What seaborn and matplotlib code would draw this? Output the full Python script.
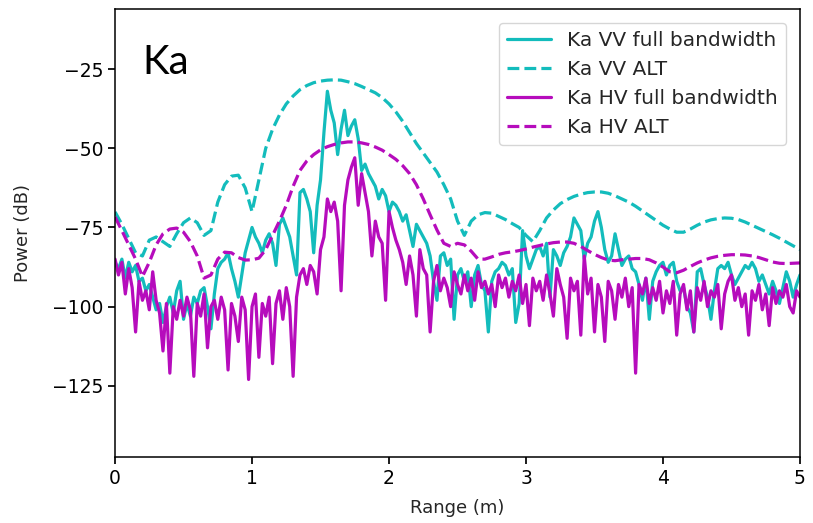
import numpy as np
import pandas as pd
import seaborn as sns
import matplotlib
matplotlib.use("Agg")
import matplotlib.pyplot as plt

# range axis samples (m)
range_fine = np.round(np.linspace(0, 5, 201), 3)     # full-bandwidth traces
range_alt = np.round(np.linspace(0, 5, 101), 3)      # ALT traces

vv_full = [
    -86, -88, -85, -91, -86, -89, -87, -92,
    -91, -95, -93, -97, -101, -99, -105, -100,
    -97, -102, -95, -92, -104, -99, -103, -97,
    -99, -95, -94, -100, -107, -96, -88, -86,
    -85, -83, -88, -92, -97, -90, -83, -79,
    -75, -78, -80, -83, -79, -77, -80, -87,
    -74, -72, -75, -78, -84, -90, -64, -63,
    -66, -70, -83, -68, -60, -45, -32, -38,
    -42, -52, -44, -38, -46, -43, -41, -47,
    -57, -55, -58, -60, -62, -66, -63, -65,
    -70, -67, -68, -70, -73, -71, -76, -81,
    -74, -76, -78, -80, -84, -92, -98, -84,
    -83, -87, -85, -104, -90, -88, -92, -89,
    -100, -90, -87, -93, -95, -108, -92, -89,
    -88, -86, -87, -90, -88, -105, -99, -76,
    -84, -88, -85, -82, -81, -84, -80, -97,
    -82, -84, -87, -83, -81, -78, -72, -74,
    -76, -85, -80, -78, -73, -70, -75, -82,
    -86, -84, -77, -82, -87, -85, -84, -88,
    -89, -93, -98, -91, -104, -92, -89, -87,
    -86, -90, -87, -86, -92, -95, -94, -100,
    -102, -108, -89, -88, -93, -97, -104, -95,
    -88, -87, -88, -86, -90, -93, -91, -89,
    -87, -88, -86, -88, -92, -90, -93, -96,
    -92, -95, -99, -94, -89, -92, -97, -93,
    -90,
]

hv_full = [
    -85, -90, -86, -96, -88, -94, -108, -92,
    -98, -95, -101, -89, -98, -102, -114, -99,
    -121, -100, -104, -98, -103, -97, -101, -122,
    -99, -103, -96, -113, -100, -98, -104, -97,
    -101, -120, -99, -103, -111, -97, -101, -123,
    -100, -96, -116, -99, -103, -97, -118, -99,
    -95, -104, -94, -100, -122, -97, -90, -88,
    -93, -87, -89, -96, -82, -78, -66, -70,
    -67, -73, -95, -68, -60, -56, -53, -68,
    -58, -64, -70, -84, -73, -78, -80, -98,
    -70, -75, -79, -82, -86, -93, -84, -90,
    -103, -82, -88, -90, -108, -92, -87, -95,
    -91, -94, -100, -89, -93, -96, -90, -95,
    -91, -98, -89, -94, -92, -96, -93, -100,
    -90, -94, -91, -97, -92, -95, -90, -99,
    -93, -106, -91, -95, -92, -98, -90, -96,
    -103, -88, -93, -97, -110, -91, -95, -92,
    -109, -84, -96, -91, -108, -93, -97, -111,
    -92, -95, -104, -93, -97, -91, -100, -94,
    -121, -93, -96, -91, -99, -94, -98, -92,
    -102, -95, -99, -92, -109, -96, -93, -101,
    -95, -108, -94, -98, -92, -100, -95, -97,
    -93, -107, -96, -92, -90, -98, -94, -100,
    -96, -109, -95, -98, -93, -101, -96, -106,
    -94, -99, -95, -97, -93, -100, -102, -95,
    -97,
]

vv_alt = [
    -70.1, -74, -78.5, -83, -84, -79, -78, -79.5, -81, -77,
    -73.5, -72, -73.5, -77.5, -76, -67, -61.5, -58.8, -58.5, -62.5,
    -70, -60, -50, -44, -39.5, -36, -33.5, -31.5, -30.2, -29.3,
    -28.8, -28.5, -28.4, -28.5, -29, -29.6, -30.5, -31.5, -32.5, -34,
    -36, -38.5, -41.5, -45, -48.5, -51.5, -54.5, -57.5, -61.5, -66,
    -73, -77.5, -73, -71, -70.3, -70.5, -71.5, -72.5, -73.8, -75,
    -77.5, -79.5, -76, -72, -69.5, -67.5, -66.2, -65.2, -64.5, -64,
    -63.8, -63.8, -64.2, -65, -66, -67, -68.3, -69.8, -71.3, -72.8,
    -74.3, -75.5, -76.5, -76.5, -75.5, -74.3, -73.3, -72.6, -72.2, -72,
    -72.1, -72.5, -73.3, -74.3, -75.3, -76.3, -77.3, -78.4, -79.6, -80.8,
    -82,
]

hv_alt = [
    -71.7, -76, -80.5, -85, -90.5, -86, -80.5, -77, -75.5, -75.2,
    -76.5, -79.5, -84, -91, -90, -85, -82.8, -83, -84.5, -85.3,
    -85.2, -84.7, -82, -77.5, -73, -68, -62, -57, -54, -52,
    -50.5, -49.5, -48.8, -48.3, -48, -48, -48.3, -48.8, -49.6, -50.6,
    -52, -53.5, -55.5, -58, -61.5, -66, -71, -75.8, -80, -81,
    -80, -80.5, -82.5, -85, -85, -84.3, -83.5, -83, -82.7, -82.3,
    -81.8, -81.2, -80.7, -80.2, -79.8, -79.6, -79.6, -80, -81, -82.3,
    -83.5, -84.5, -85.3, -85.5, -85.2, -85, -84.8, -84.8, -85.2, -86.2,
    -87.5, -89, -89.3, -88.5, -87.3, -86.2, -85.3, -84.6, -84.1, -83.8,
    -83.6, -83.6, -83.7, -84, -84.5, -85.2, -85.9, -86.3, -86.4, -86.3,
    -86.2,
]

sns.set_theme(style="ticks", rc={
    "axes.edgecolor": "black",
    "axes.linewidth": 1.1,
    "xtick.color": "black",
    "ytick.color": "black",
    "xtick.major.size": 5,
    "ytick.major.size": 5,
})
plt.rcParams["font.family"] = ["DejaVu Sans"]

cyan = "#13bcbc"
magenta = "#b60cbc"

fine = pd.DataFrame({"Range": range_fine, "VV": vv_full, "HV": hv_full})
alt = pd.DataFrame({"Range": range_alt, "VV": vv_alt, "HV": hv_alt})

fig, ax = plt.subplots(figsize=(8.13, 5.23), dpi=100)
fig.subplots_adjust(left=0.1415, right=0.984, bottom=0.126, top=0.983)

lw = 2.3
sns.lineplot(data=fine, x="Range", y="VV", color=cyan, lw=lw, sort=False,
             label="Ka VV full bandwidth", ax=ax)
sns.lineplot(data=alt, x="Range", y="VV", color=cyan, lw=lw, ls="--", sort=False,
             label="Ka VV ALT", ax=ax)
sns.lineplot(data=fine, x="Range", y="HV", color=magenta, lw=lw, sort=False,
             label="Ka HV full bandwidth", ax=ax)
sns.lineplot(data=alt, x="Range", y="HV", color=magenta, lw=lw, ls="--", sort=False,
             label="Ka HV ALT", ax=ax)

ax.set_xlim(0, 5)
ax.set_ylim(-147.5, -6)
ax.set_yticks([-125, -100, -75, -50, -25])
ax.tick_params(labelsize=13.5)
ax.set_xlabel("Range (m)", fontsize=13, labelpad=8)
ax.set_ylabel("Power (dB)", fontsize=13, labelpad=14)

ax.legend(loc="upper right", fontsize=14.5, framealpha=0.8, edgecolor="#cccccc",
          handlelength=2.2, borderaxespad=0.7)

ax.text(0.04, 0.88, "Ka", transform=ax.transAxes, fontsize=29,
        family=["Lato", "DejaVu Sans"], va="center", ha="left", color="black")

plt.savefig("out.png", dpi=100)
